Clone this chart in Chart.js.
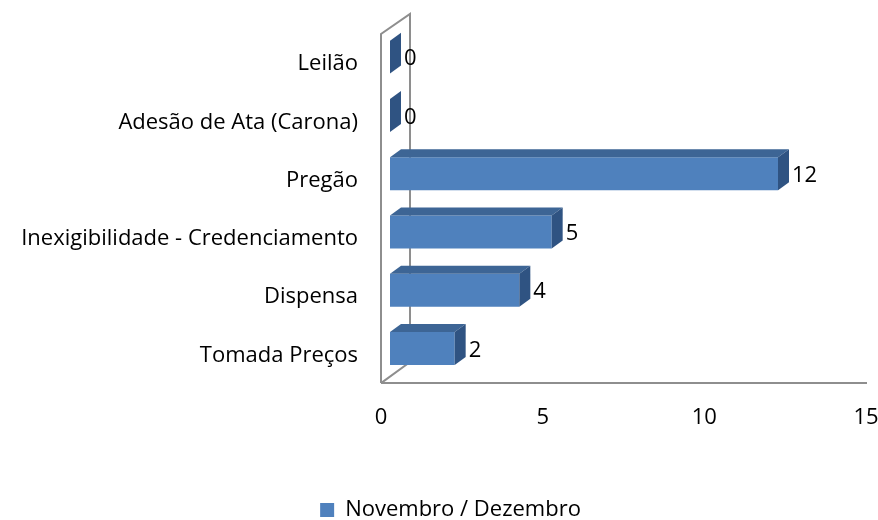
<!DOCTYPE html>
<html>
<head>
<meta charset="utf-8">
<script src="https://cdn.jsdelivr.net/npm/chart.js@4.4.1/dist/chart.umd.min.js"></script>
<style>
  html, body { margin: 0; padding: 0; background: #fff; }
  #wrap { width: 878px; height: 520px; }
</style>
</head>
<body>
<div id="wrap"><canvas id="procChart"></canvas></div>
<script>
const categories = ["Leilão", "Adesão de Ata (Carona)", "Pregão", "Inexigibilidade - Credenciamento", "Dispensa", "Tomada Preços"];
const counts = [0, 0, 12, 5, 4, 2];
const seriesName = "Novembro / Dezembro";
const xMin = 0, xMax = 15, xStep = 5;

// 3d look: bar depth and back wall depth, in px
const barDepth = { dx: 11, dy: -8 };
const wallDepth = { dx: 29, dy: -21 };
const wallShift = { dx: -9, dy: 5.5 };

const box3d = {
  id: 'box3d',
  afterLayout(chart) {
    // legend sits a bit right of the canvas centre in the original
    chart.legend.left += 11;
    chart.legend.right += 11;
  },
  beforeDatasetsDraw(chart) {
    const { ctx, chartArea: a } = chart;
    const x0 = a.left + wallShift.dx, y0 = a.bottom + wallShift.dy;
    const top = a.top + 6;
    ctx.save();
    ctx.strokeStyle = '#8e8e8e';
    ctx.lineWidth = 2;
    ctx.beginPath();
    ctx.moveTo(x0, y0);
    ctx.lineTo(x0, top);
    ctx.lineTo(x0 + wallDepth.dx, top + wallDepth.dy + 1);
    ctx.lineTo(x0 + wallDepth.dx, y0 + wallDepth.dy);
    ctx.lineTo(x0, y0);
    ctx.moveTo(x0, y0);
    ctx.lineTo(a.right - 8, y0);
    ctx.stroke();
    ctx.restore();
  },
  afterDatasetsDraw(chart) {
    const { ctx } = chart;
    const meta = chart.getDatasetMeta(0);
    const { dx, dy } = barDepth;
    ctx.save();
    meta.data.forEach((bar, i) => {
      const p = bar.getProps(['x', 'y', 'base', 'height'], true);
      const t = p.y - p.height / 2, b = p.y + p.height / 2;
      // top face
      ctx.fillStyle = '#3d6595';
      ctx.beginPath();
      ctx.moveTo(p.base, t);
      ctx.lineTo(p.x, t);
      ctx.lineTo(p.x + dx, t + dy);
      ctx.lineTo(p.base + dx, t + dy);
      ctx.closePath();
      ctx.fill();
      // side face
      ctx.fillStyle = '#2f5382';
      ctx.beginPath();
      ctx.moveTo(p.x, t);
      ctx.lineTo(p.x + dx, t + dy);
      ctx.lineTo(p.x + dx, b + dy);
      ctx.lineTo(p.x, b);
      ctx.closePath();
      ctx.fill();
      // value label
      ctx.fillStyle = '#000';
      ctx.font = '22px "Open Sans"';
      ctx.textAlign = 'left';
      ctx.textBaseline = 'middle';
      ctx.fillText(String(counts[i]), p.x + dx + 3, p.y + 2);
    });
    ctx.restore();
  }
};

// drop the automatic label padding so the plot area stays where we put it
function noPad(scale) {
  scale.paddingLeft = scale.paddingRight = scale.paddingTop = scale.paddingBottom = 0;
}

Chart.defaults.font.family = '"Open Sans"';
Chart.defaults.font.size = 22;
Chart.defaults.color = '#000';

new Chart(document.getElementById('procChart').getContext('2d'), {
  type: 'bar',
  data: {
    labels: categories,
    datasets: [{
      label: seriesName,
      data: counts,
      backgroundColor: '#4f81bd',
      borderWidth: 0,
      barPercentage: 0.566,
      categoryPercentage: 1
    }]
  },
  options: {
    indexAxis: 'y',
    responsive: true,
    maintainAspectRatio: false,
    animation: false,
    layout: {
      autoPadding: false,
      padding: { top: 28, left: 4, right: 3, bottom: -11 }
    },
    scales: {
      x: {
        min: xMin,
        max: xMax,
        ticks: { stepSize: xStep, padding: 27, labelOffset: -9 },
        grid: { display: false, drawTicks: false },
        border: { display: false },
        afterFit: (scale) => { scale.height = 121.4; noPad(scale); }
      },
      y: {
        ticks: { padding: 32, labelOffset: 7 },
        grid: { display: false, drawTicks: false },
        border: { display: false },
        afterFit: (scale) => { scale.width = 386; noPad(scale); }
      }
    },
    plugins: {
      legend: {
        position: 'bottom',
        labels: { boxWidth: 14, boxHeight: 14, padding: 0 }
      },
      tooltip: { enabled: false }
    }
  },
  plugins: [box3d]
});
</script>
</body>
</html>
